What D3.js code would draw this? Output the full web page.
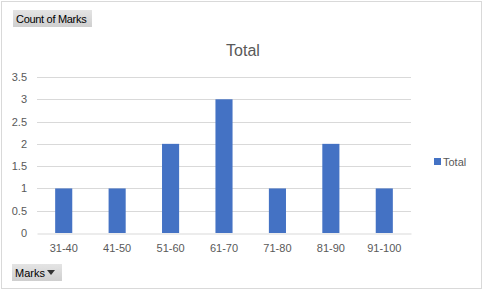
<!DOCTYPE html>
<html><head><meta charset="utf-8">
<script src="https://cdn.jsdelivr.net/npm/d3@7"></script>
<style>html,body{margin:0;padding:0;background:#fff;}svg{display:block;}</style>
</head><body>
<script>
const categories = ["31-40","41-50","51-60","61-70","71-80","81-90","91-100"];
const counts = [1,1,2,3,1,2,1];
const yTicks = [0,0.5,1,1.5,2,2.5,3,3.5];
const seriesName = "Total";

const W = 484, H = 289;
const font = "'Liberation Sans', Arial, sans-serif";
const svg = d3.select("body").append("svg").attr("width", W).attr("height", H);

// outer frame
svg.append("rect").attr("x",1.5).attr("y",1.5).attr("width",W-4).attr("height",H-2)
  .attr("fill","#fff").attr("stroke","#d9d9d9").attr("stroke-width",1);

const m = {left:37, right:73, top:77, bottom:56};
const x = d3.scaleBand().domain(categories).range([37,411]).paddingInner(0.68).paddingOuter(0.34);
const y = d3.scaleLinear().domain([0,3.5]).range([233,77]);

// gridlines
svg.append("g").selectAll("line").data(yTicks.slice(1)).join("line")
  .attr("x1",37).attr("x2",411).attr("y1",d=>Math.round(y(d))+0.5).attr("y2",d=>Math.round(y(d))+0.5)
  .attr("stroke","#d9d9d9").attr("stroke-width",1);

// y labels
const yAxis = d3.axisLeft(y).tickValues(yTicks).tickSize(0).tickPadding(10).tickFormat(d3.format("~g"));
const yg = svg.append("g").attr("transform","translate(37,0)").call(yAxis);
yg.select(".domain").remove();
yg.selectAll("text").attr("fill","#595959").style("font-family",font).style("font-size","11px");

// bars
svg.append("g").selectAll("rect").data(counts).join("rect")
  .attr("x",(d,i)=>x(categories[i])).attr("width",x.bandwidth())
  .attr("y",d=>y(d)).attr("height",d=>y(0)-y(d)).attr("fill","#4472c4");

// x axis
const xAxis = d3.axisBottom(x).tickSize(0).tickPadding(11);
const xg = svg.append("g").attr("transform",`translate(0,${Math.round(y(0))+0.5})`).call(xAxis);
xg.select(".domain").attr("stroke","#d9d9d9");
xg.selectAll("text").attr("fill","#595959").style("font-family",font).style("font-size","11px");

// title
svg.append("text").attr("x",243).attr("y",56).attr("text-anchor","middle")
  .attr("fill","#595959").style("font-family",font).style("font-size","16px").text(seriesName);

// legend
svg.append("rect").attr("x",434).attr("y",158).attr("width",7).attr("height",7).attr("fill","#4472c4");
svg.append("text").attr("x",443).attr("y",165.5).attr("fill","#595959")
  .style("font-family",font).style("font-size","11px").text(seriesName);

// field buttons
const grad = svg.append("defs").append("linearGradient").attr("id","btn").attr("x1",0).attr("y1",0).attr("x2",0).attr("y2",1);
grad.append("stop").attr("offset","0").attr("stop-color","#e4e4e4");
grad.append("stop").attr("offset","1").attr("stop-color","#cfcfcf");
svg.append("rect").attr("x",13).attr("y",10).attr("width",79).attr("height",17).attr("fill","url(#btn)");
svg.append("text").attr("x",16).attr("y",22.5).attr("fill","#000")
  .style("font-family",font).style("font-size","11px").style("letter-spacing","-0.3px").text("Count of Marks");
svg.append("rect").attr("x",12).attr("y",264).attr("width",50).attr("height",17).attr("fill","url(#btn)");
svg.append("text").attr("x",15).attr("y",276.5).attr("fill","#000")
  .style("font-family",font).style("font-size","11px").text("Marks");
svg.append("path").attr("d","M47,270 L55,270 L51,275 Z").attr("fill","#333");
</script>
</body></html>
